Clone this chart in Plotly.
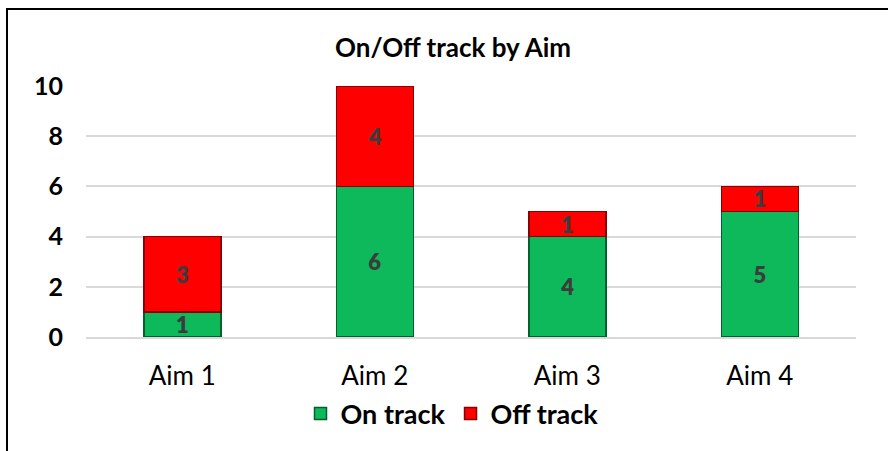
import plotly.graph_objects as go

categories = ["Aim 1", "Aim 2", "Aim 3", "Aim 4"]
on_track = [1, 6, 4, 5]
off_track = [3, 4, 1, 1]
y_ticks = [0, 2, 4, 6, 8, 10]

FONT = "Lato, Open Sans, sans-serif"
W, H = 888, 451
L, R, T, B = 86, 32, 86, 114
pw, ph = W - L - R, H - T - B

label_font = dict(family=FONT, size=22, color="#3c3c3c", weight=800)

fig = go.Figure()
fig.add_trace(go.Bar(
    x=categories, y=on_track, name="On track",
    marker=dict(color="#0DB95A", line=dict(color="#00602c", width=1.5)),
    text=on_track, textposition="inside",
    insidetextanchor="middle", textangle=0, constraintext="none", textfont=label_font,
))
fig.add_trace(go.Bar(
    x=categories, y=off_track, name="Off track",
    marker=dict(color="#FF0000", line=dict(color="#8a0000", width=1.5)),
    text=off_track, textposition="inside",
    insidetextanchor="middle", textangle=0, constraintext="none", textfont=label_font,
))

fig.update_layout(
    width=W, height=H,
    margin=dict(l=L, r=R, t=T, b=B),
    barmode="stack", bargap=0.6,
    plot_bgcolor="white", paper_bgcolor="white",
    font=dict(family=FONT, color="black"),
    title=dict(text="<b>On/Off track by Aim</b>", font=dict(family=FONT, size=26, color="black"),
               x=453 / W, xanchor="center", xref="container",
               y=1 - 48 / H, yanchor="middle", yref="container"),
    legend=dict(orientation="h", x=(452 - L) / pw, xanchor="center",
                y=-(414 - (T + ph)) / ph, yanchor="middle",
                font=dict(family=FONT, size=27, color="black", weight="bold"),
                itemwidth=30, traceorder="normal"),
    xaxis=dict(showgrid=False, showline=True, linecolor="#d9d9d9", linewidth=1.5,
               tickfont=dict(family=FONT, size=26, color="black"),
               ticklabelstandoff=15),
    yaxis=dict(range=[0, 10], tickvals=y_ticks, showgrid=True, gridcolor="#d9d9d9",
               gridwidth=1.5, zeroline=False, showline=False,
               tickfont=dict(family=FONT, size=25, color="black", weight="bold"),
               ticklabelstandoff=22),
    showlegend=True,
)

fig.add_shape(type="rect", xref="paper", yref="paper",
              x0=(7 - L) / pw, x1=1.3, y0=-0.8, y1=(T + ph - 9) / ph,
              line=dict(color="black", width=2), layer="above")

fig.write_html("out.html")
